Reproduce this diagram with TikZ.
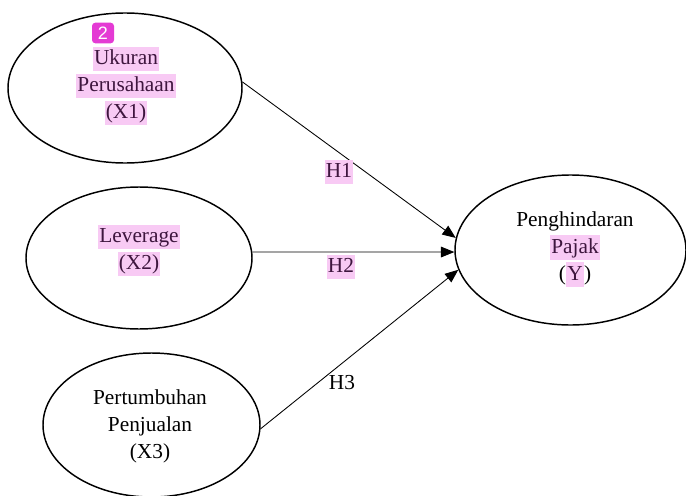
\documentclass[tikz,border=0pt]{standalone}
\usepackage{fontspec}
\setmainfont{Liberation Serif}
\newfontfamily\badgefont{Liberation Sans}
\usetikzlibrary{shapes.geometric,arrows.meta}

% pink marker behind a word
\newcommand{\hlt}[1]{{\setlength{\fboxsep}{0pt}%
    \colorbox{hlpink}{\kern1pt\vrule height13.5pt depth5pt width0pt\textcolor{hltext}{#1}\kern1pt}}}

\begin{document}
\begin{tikzpicture}[x=0.75pt, y=-0.75pt]

    % Colors of the marker and badge
    \definecolor{hlpink}{RGB}{248,202,244}
    \definecolor{hltext}{RGB}{62,22,62}
    \definecolor{badgecol}{RGB}{228,58,212}

    % Common styles
    \tikzset{
        var/.style={draw, ellipse, line width=1.1pt, inner sep=0pt},
        vartext/.style={font=\fontsize{16}{20.25}\selectfont, align=center, inner sep=0pt},
        hyp/.style={font=\fontsize{16}{20.25}\selectfont, inner sep=0pt},
        path/.style={line width=0.65pt, -{Triangle[length=10pt, width=8pt]}}
    }

    \useasboundingbox (0,0) rectangle (686,496);

    % ================== Independent variables ==================
    \node[var, minimum width=175.5pt, minimum height=112.5pt] (x1) at (125,88) {};
    \node[vartext] (x1txt) at (126,86)
        {\hlt{Ukuran}\\\hlt{Perusahaan}\\\hlt{(X1)}};

    \node[var, minimum width=169.5pt, minimum height=106.5pt] (x2) at (139,258) {};
    \node[vartext] (x2txt) at (139,250.5)
        {\hlt{Leverage}\\\hlt{(X2)}};

    \node[var, minimum width=162.75pt, minimum height=108pt] (x3) at (151.5,425) {};
    \node[vartext] (x3txt) at (150,426)
        {Pertumbuhan\\Penjualan\\(X3)};

    % ==================== Dependent variable ===================
    \node[var, minimum width=173.25pt, minimum height=112.5pt] (y) at (570.5,250) {};
    \node[vartext] (ytxt) at (575,249)
        {Penghindaran\\\hlt{Pajak}\\(\hlt{Y})};

    % ======================= Hypotheses ========================
    \draw[path] (x1.3) -- (y.174);
    \draw[path] (x2.3) -- (y.181);
    \draw[path] (x3.358) -- (y.190);

    \node[hyp] (h1) at (339,172) {\hlt{H1}};
    \node[hyp] (h2) at (341,267) {\hlt{H2}};
    \node[hyp] (h3) at (342,383) {H3};

    % badge
    \node[fill=badgecol, rounded corners=2.5pt, minimum width=16.5pt, minimum height=15.5pt,
          inner sep=0pt, text=white, font=\badgefont\fontsize{13.5}{15}\selectfont] (badge) at (103,33) {2};

\end{tikzpicture}
\end{document}
